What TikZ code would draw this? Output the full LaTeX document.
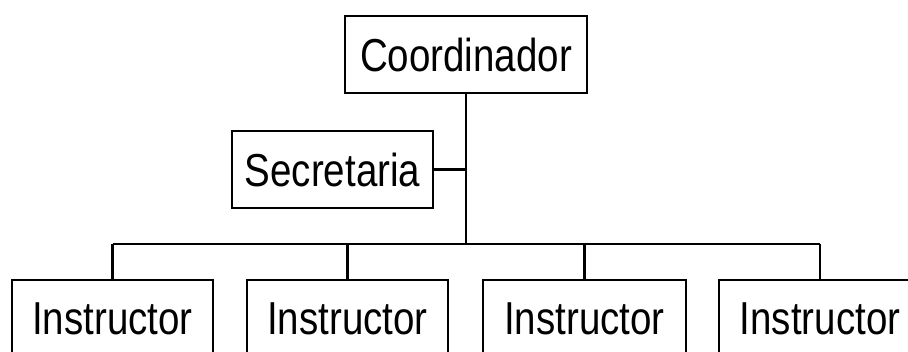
\documentclass[tikz,border=0pt]{standalone}
\usepackage{fontspec}
\setmainfont{Liberation Sans}
\begin{document}
\begin{tikzpicture}[x=1pt,y=1pt,
  orgbox/.style={draw=black,line width=2.3pt,fill=white,inner sep=0pt,
    minimum height=77pt,font=\fontsize{38.5}{40}\selectfont},
  link/.style={draw=black,line width=2.3pt}]
\useasboundingbox (0,0) rectangle (908,352);
\clip (0,0) rectangle (908,352);
\fill[white] (0,0) rectangle (908,352);
% chart boxes
\node[orgbox,minimum width=242pt] (coord) at (466,297.5) {\scalebox{1}[1.2]{Coordinador}};
\node[orgbox,minimum width=201pt] (secr) at (332.5,182.5) {\scalebox{1}[1.2]{Secretaria}};
\node[orgbox,minimum width=201pt] (ins1) at (112.5,33.5) {\scalebox{1}[1.2]{Instructor}};
\node[orgbox,minimum width=201pt] (ins2) at (347.5,33.5) {\scalebox{1}[1.2]{Instructor}};
\node[orgbox,minimum width=203pt] (ins3) at (584.5,33.5) {\scalebox{1}[1.2]{Instructor}};
\node[orgbox,minimum width=202pt] (ins4) at (820,33.5) {\scalebox{1}[1.2]{Instructor}};
% junction points
\coordinate (bus) at (466,108);
\coordinate (busL) at (ins1.north |- bus);
\coordinate (busR) at (ins4.north |- bus);
% connectors
\draw[link] (coord.south) -- (bus);
\draw[link] (secr.east) -- (secr.east -| bus);
\draw[link] (busL) -- (busR);
\draw[link] (busL) -- (ins1.north);
\draw[link] (ins2.north |- bus) -- (ins2.north);
\draw[link] (ins3.north |- bus) -- (ins3.north);
\draw[link] (busR) -- (ins4.north);
\end{tikzpicture}
\end{document}
